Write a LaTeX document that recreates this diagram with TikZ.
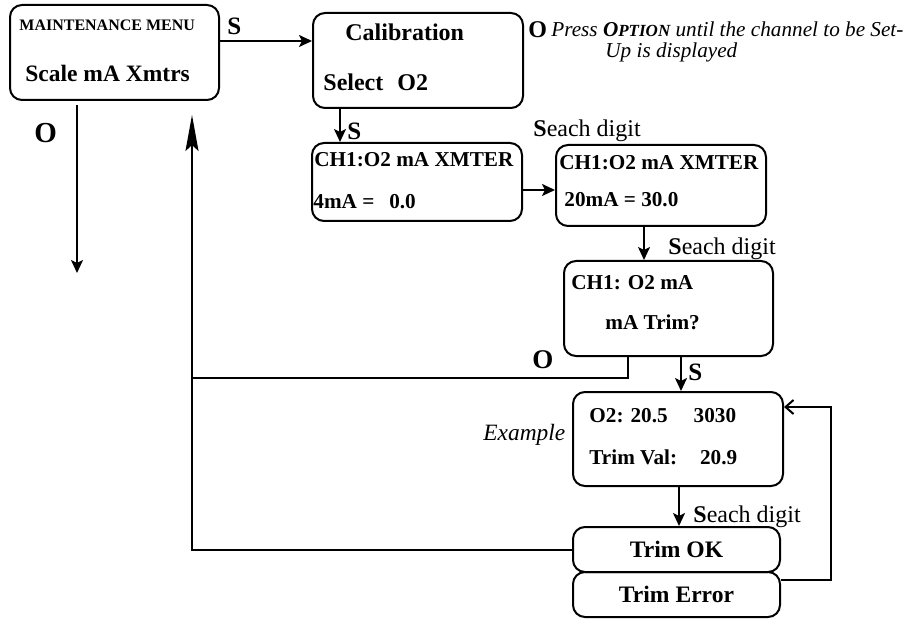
\documentclass[tikz,border=0pt]{standalone}
\usepackage{fontspec}
\setmainfont{Liberation Serif}
\usetikzlibrary{arrows.meta}

\begin{document}
\begin{tikzpicture}[x=0.5pt, y=-0.5pt,
    box/.style={draw, line width=1pt, rounded corners=6pt, inner sep=0pt},
    arr/.style={line width=1pt, -{Stealth[length=6.5pt, width=6pt, inset=1.5pt]}},
    wire/.style={line width=1pt},
    txt/.style={anchor=base west, inner sep=0pt, font=\fontsize{10.6}{12}\selectfont\bfseries},
    key/.style={anchor=base west, inner sep=0pt, font=\fontsize{12.5}{14}\selectfont\bfseries},
    note/.style={anchor=base west, inner sep=0pt, font=\fontsize{12}{14}\selectfont}]
    \useasboundingbox (0, 0) rectangle (913, 619);

    \node[box, minimum width=104.5pt, minimum height=47.5pt] (menu) at (114.5, 52.5) {};
    \node[box, minimum width=105pt, minimum height=47.5pt] (calib) at (418, 60.5) {};
    \node[box, minimum width=105pt, minimum height=39pt] (chA) at (417, 182) {};
    \node[box, minimum width=105pt, minimum height=40.5pt] (chB) at (661, 185.5) {};
    \node[box, minimum width=104.5pt, minimum height=47.5pt] (trimq) at (668.5, 308.5) {};
    \node[box, minimum width=105pt, minimum height=47pt] (otwo) at (678, 439) {};
    \node[box, minimum width=103.5pt, minimum height=22.5pt, font=\fontsize{11.8}{13}\selectfont\bfseries] (trimerr) at (676.5, 594.5) {Trim Error};
    \node[box, minimum width=103.5pt, minimum height=22.5pt, font=\fontsize{11.8}{13}\selectfont\bfseries] (trimok) at (676.5, 549.5) {Trim OK};

    \node[txt, font=\fontsize{8}{9}\selectfont\bfseries] (menuA) at (19, 31) {MAINTENANCE MENU};
    \node[txt, font=\fontsize{11.75}{13}\selectfont\bfseries] (menuB) at (25, 82) {Scale mA Xmtrs};
    \node[txt, font=\fontsize{12}{14}\selectfont\bfseries] (calibA) at (345, 41) {Calibration};
    \node[txt, font=\fontsize{12}{14}\selectfont\bfseries] (calibB) at (323, 91) {Select\hspace{7pt}O2};
    \node[txt] (chAa) at (314, 167) {CH1:O2 mA XMTER};
    \node[txt] (chAb) at (313, 209) {4mA =\hspace{7.5pt}0.0};
    \node[txt] (chBa) at (559, 170) {CH1:O2 mA XMTER};
    \node[txt] (chBb) at (564, 207) {20mA = 30.0};
    \node[txt] (trimqA) at (571, 290) {CH1: O2 mA};
    \node[txt] (trimqB) at (605, 329) {mA Trim?};
    \node[txt] (otwoA) at (589, 422) {O2: 20.5\hspace{13pt}3030};
    \node[txt] (otwoB) at (589, 464) {Trim Val:\hspace{11.5pt}20.9};

    \node[key] (sA) at (227, 35) {S};
    \node[key, font=\fontsize{12}{14}\selectfont\bfseries] (oA) at (528, 38) {O};
    \node[txt, font=\fontsize{10.6}{12}\selectfont\itshape] (pressA) at (551, 37) {Press \textbf{O\fontsize{8.5}{10}\selectfont PTION} until the channel to be Set-};
    \node[txt, font=\fontsize{10.6}{12}\selectfont\itshape] (pressB) at (605, 58) {Up is displayed};
    \node[key] (sB) at (347, 140) {S};
    \node[note] (digA) at (533, 137) {\textbf{S}each digit};
    \node[note] (digB) at (668, 255) {\textbf{S}each digit};
    \node[key, font=\fontsize{13.5}{15}\selectfont\bfseries] (oB) at (532, 368) {O};
    \node[key] (sC) at (688, 380) {S};
    \node[note, font=\fontsize{11.7}{13}\selectfont\itshape] (example) at (483, 440) {Example};
    \node[note] (digC) at (693, 522) {\textbf{S}each digit};
    \node[key, font=\fontsize{14.5}{16}\selectfont\bfseries] (oC) at (34, 143) {O};

    \coordinate (exitO) at (77, 273);
    \coordinate (back) at (192, 378);
    \coordinate (up) at (192, 115);

    \draw[arr] ([yshift=5.75pt]menu.east) -- ([yshift=5.75pt]menu.east -| calib.west);
    \draw[arr] ([xshift=-39pt]calib.south) -- ([xshift=-39pt]calib.south |- chA.north);
    \draw[arr] ([yshift=-4pt]chA.east) -- ([yshift=-4pt]chA.east -| chB.west);
    \draw[arr] ([xshift=-8.5pt]chB.south) -- ([xshift=-8.5pt]chB.south |- trimq.north);
    \draw[arr] ([xshift=6.25pt]trimq.south) -- ([xshift=6.25pt]trimq.south |- otwo.north);
    \draw[arr] ([xshift=0.5pt]otwo.south) -- ([xshift=0.5pt]otwo.south |- trimok.north);
    \draw[arr] ([xshift=-18.75pt, yshift=-2pt]menu.south) -- (exitO);
    \draw[wire] ([xshift=-20.25pt]trimq.south) |- (back);
    \draw[wire, -{Stealth[length=18pt, width=6.5pt, inset=3pt]}] (trimok.west) -| (up);
    \draw[wire, -{Straight Barb[length=4pt, width=7pt]}] ([yshift=7.25pt]trimerr.east) -| ([xshift=23.5pt, yshift=16pt]otwo.east) -- ([yshift=16pt]otwo.east);
\end{tikzpicture}
\end{document}
